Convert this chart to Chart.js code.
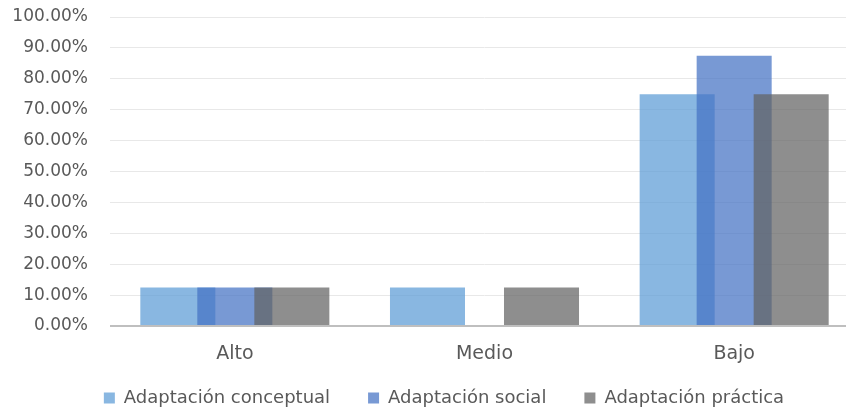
<!DOCTYPE html>
<html>
<head>
<meta charset="utf-8">
<script src="https://cdn.jsdelivr.net/npm/chart.js@4/dist/chart.umd.min.js"></script>
<style>
  html, body { margin: 0; padding: 0; background: #ffffff; overflow: hidden; width: 846px; height: 410px; }
  #wrap { position: absolute; left: 0; top: 0; width: 870px; height: 410px; }
</style>
</head>
<body>
<div id="wrap"><canvas id="c"></canvas></div>
<script>
const categories = ['Alto', 'Medio', 'Bajo'];
const seriesNames = ['Adaptación conceptual', 'Adaptación social', 'Adaptación práctica'];
const conceptual = [12.5, 12.5, 75];
const social = [12.5, 0, 87.5];
const practica = [12.5, 12.5, 75];
const yMin = 0, yMax = 100, yStep = 10;

const colors = ['rgba(91,155,213,0.72)', 'rgba(68,114,196,0.72)', 'rgba(99,99,99,0.72)'];

// Draw datasets in index order (first dataset at the bottom), like the original.
const drawOrder = {
  id: 'drawOrder',
  beforeDatasetsDraw(chart) {
    chart.getSortedVisibleDatasetMetas().forEach(m => m.controller.draw());
    return false;
  }
};

// Place the legend row (centre x, item centre y) as in the original.
const LEGEND_CX = 444, LEGEND_CY = 398;
const legendPlace = {
  id: 'legendPlace',
  afterLayout(chart) {
    const lg = chart.legend;
    if (!lg) return;
    const pad = lg.options.labels.padding;
    const fs = lg.options.labels.font.size;
    const shift = LEGEND_CX - (lg.left + lg.right) / 2;
    lg.left += shift; lg.right += shift;
    lg.top = LEGEND_CY - fs / 2 - pad;
    lg.bottom = chart.height;
  }
};

const font = 'DejaVu Sans';
new Chart(document.getElementById('c'), {
  type: 'bar',
  data: {
    labels: categories,
    datasets: [conceptual, social, practica].map((d, i) => ({
      label: seriesNames[i],
      data: d,
      backgroundColor: colors[i],
      borderWidth: 0,
      categoryPercentage: 0.685,
      barPercentage: 1.316
    }))
  },
  options: {
    responsive: true,
    maintainAspectRatio: false,
    animation: false,
    layout: { padding: { left: 0, right: 11, top: 17, bottom: 0 } },
    plugins: {
      tooltip: { enabled: false },
      legend: {
        position: 'bottom',
        maxHeight: 44,
        labels: {
          boxWidth: 11,
          boxHeight: 11,
          padding: 38,
          color: '#595959',
          font: { family: font, size: 18 }
        }
      }
    },
    scales: {
      x: {
        grid: { display: false, drawTicks: false },
        border: { display: false },
        ticks: { color: '#595959', padding: 17, font: { family: font, size: 19 } },
        afterFit(scale) { scale.height = 40; }
      },
      y: {
        min: yMin, max: yMax,
        border: { display: false },
        grid: {
          drawTicks: true,
          tickLength: 20,
          tickColor: 'rgba(0,0,0,0)',
          color: ctx => ctx.index === 0 ? '#BFBFBF' : '#E8E8E8',
          lineWidth: ctx => ctx.index === 0 ? 2 : 1
        },
        ticks: {
          stepSize: yStep,
          padding: 2,
          color: '#595959',
          font: { family: font, size: 17 },
          callback: v => v.toFixed(2) + '%'
        },
        afterFit(scale) { scale.width = 110; }
      }
    }
  },
  plugins: [drawOrder, legendPlace]
});
</script>
</body>
</html>
